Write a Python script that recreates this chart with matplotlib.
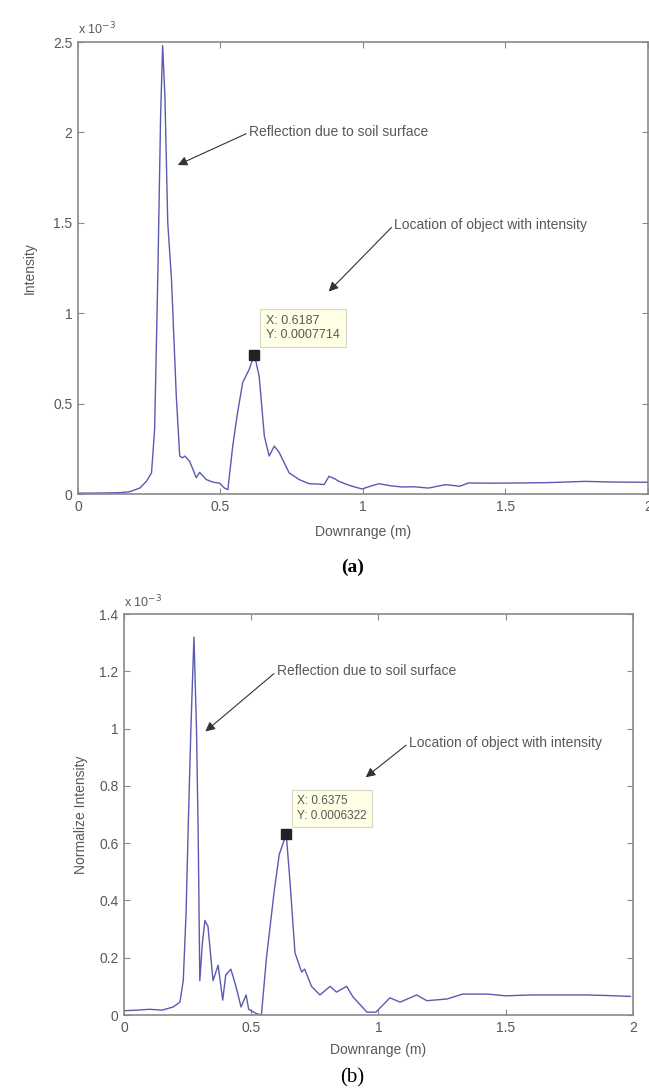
import matplotlib
matplotlib.use("Agg")
import matplotlib.pyplot as plt
from matplotlib.ticker import FixedLocator, FuncFormatter

# (a) intensity vs downrange, values in units of 1e-3
top_x = [0, 0.05, 0.10, 0.15, 0.18, 0.217, 0.24, 0.258, 0.269, 0.28, 0.29, 0.297, 0.305, 0.315, 0.328,
         0.345, 0.357, 0.366, 0.375, 0.392, 0.405, 0.415, 0.427, 0.45, 0.475, 0.497, 0.514, 0.526, 0.543, 0.56,
         0.578, 0.601, 0.619, 0.636, 0.654, 0.671, 0.689, 0.706, 0.741, 0.776, 0.811, 0.846, 0.864, 0.881, 0.90,
         0.916, 0.94, 0.962, 0.997, 1.03, 1.056, 1.10, 1.137, 1.18, 1.23, 1.29, 1.34, 1.37, 1.45, 1.545,
         1.65, 1.78, 1.88, 2.0]
top_y = [0.005, 0.005, 0.006, 0.008, 0.012, 0.033, 0.07, 0.117, 0.36, 1.2, 2.1, 2.48, 2.2, 1.5, 1.19,
         0.54, 0.21, 0.2, 0.21, 0.18, 0.13, 0.09, 0.12, 0.08, 0.065, 0.06, 0.033, 0.024, 0.265, 0.45,
         0.617, 0.69, 0.772, 0.65, 0.32, 0.21, 0.265, 0.23, 0.117, 0.08, 0.057, 0.055, 0.052, 0.098, 0.085,
         0.07, 0.055, 0.043, 0.028, 0.045, 0.057, 0.045, 0.039, 0.04, 0.033, 0.052, 0.043, 0.061, 0.06, 0.061,
         0.063, 0.07, 0.066, 0.065]
top_tip = (0.6187, 0.7714)
top_yticks = [0, 0.5, 1, 1.5, 2, 2.5]

# (b) normalized intensity, units of 1e-3
bot_x = [0, 0.05, 0.10, 0.15, 0.193, 0.22, 0.233, 0.244, 0.252, 0.263, 0.275, 0.285, 0.292, 0.298, 0.308,
         0.318, 0.33, 0.35, 0.37, 0.388, 0.40, 0.42, 0.44, 0.46, 0.48, 0.49, 0.52, 0.54, 0.56, 0.59,
         0.61, 0.6375, 0.652, 0.672, 0.698, 0.71, 0.737, 0.77, 0.81, 0.835, 0.875, 0.90, 0.955, 0.99, 1.045,
         1.085, 1.15, 1.19, 1.27, 1.33, 1.43, 1.50, 1.60, 1.69, 1.82, 1.90, 1.99]
bot_y = [0.015, 0.017, 0.02, 0.017, 0.028, 0.045, 0.12, 0.355, 0.64, 1.0, 1.32, 1.0, 0.61, 0.12, 0.25,
         0.33, 0.31, 0.12, 0.174, 0.052, 0.14, 0.16, 0.10, 0.028, 0.07, 0.02, 0.005, 0.0, 0.2, 0.43,
         0.56, 0.632, 0.47, 0.217, 0.15, 0.16, 0.10, 0.07, 0.1, 0.08, 0.1, 0.063, 0.01, 0.01, 0.06,
         0.045, 0.07, 0.05, 0.056, 0.073, 0.073, 0.067, 0.07, 0.07, 0.07, 0.068, 0.065]
bot_tip = (0.6375, 0.6322)
bot_yticks = [0, 0.2, 0.4, 0.6, 0.8, 1.0, 1.2, 1.4]

xticks = [0, 0.5, 1, 1.5, 2]

LINE = "#5a5ab0"
SPINE = "#8a8a8a"
TXT = "#585858"

plt.rcParams["font.family"] = ["Liberation Sans", "DejaVu Sans"]

fig = plt.figure(figsize=(6.49, 10.92), dpi=100)
ax1 = fig.add_axes([0.1202, 0.5476, 0.878, 0.4139])
ax2 = fig.add_axes([0.191, 0.0705, 0.7843, 0.3672])


def style(ax, yticks, ymax):
    ax.set_xlim(0, 2)
    ax.set_ylim(0, ymax)
    ax.xaxis.set_major_locator(FixedLocator(xticks))
    ax.yaxis.set_major_locator(FixedLocator(yticks))
    fmt = FuncFormatter(lambda v, p: f"{v:g}")
    ax.xaxis.set_major_formatter(fmt)
    ax.yaxis.set_major_formatter(fmt)
    ax.tick_params(direction="in", length=4, width=0.8, colors=SPINE, labelcolor=TXT,
                   labelsize=10, top=True, right=True, pad=4)
    for s in ax.spines.values():
        s.set_color(SPINE)
        s.set_linewidth(1.2)
    ax.text(0.0, 1.01, "x 10$^{-3}$", transform=ax.transAxes, ha="left", va="bottom",
            fontsize=9, color=TXT)


def datatip(ax, pt, xy_box, size):
    ax.plot([pt[0]], [pt[1]], "s", ms=7, color="#222222", zorder=5)
    ax.text(xy_box[0], xy_box[1], f"X: {pt[0]:.4f}\nY: {pt[1] * 1e-3:.7f}", fontsize=size, color=TXT,
            ha="left", va="bottom", linespacing=1.25, zorder=6,
            bbox=dict(boxstyle="square,pad=0.45", fc="#ffffe6", ec="#d8d8c8", lw=0.8))


def note(ax, text, tip, txt_xy):
    ax.annotate(text, xy=tip, xytext=txt_xy, fontsize=10, color=TXT, ha="left", va="center",
                arrowprops=dict(arrowstyle="-|>", color="#333333", lw=0.8, mutation_scale=14,
                                shrinkA=0, shrinkB=0, relpos=(0, 0.5)))


# (a)
ax1.plot(top_x, top_y, color=LINE, lw=1.0)
style(ax1, top_yticks, 2.5)
ax1.set_xlabel("Downrange (m)", fontsize=10, color=TXT, labelpad=8)
ax1.set_ylabel("Intensity", fontsize=10, color=TXT, labelpad=12)
datatip(ax1, top_tip, (0.66, 0.845), 9)
note(ax1, "Reflection due to soil surface", (0.35, 1.82), (0.60, 2.0))
note(ax1, "Location of object with intensity", (0.88, 1.12), (1.11, 1.49))
fig.text(0.544, 1 - 567 / 1092, "(a)", fontsize=14, fontweight="bold", family="Liberation Serif",
         ha="center", va="center")

# (b)
ax2.plot(bot_x, bot_y, color=LINE, lw=1.0)
style(ax2, bot_yticks, 1.4)
ax2.set_xlabel("Downrange (m)", fontsize=10, color=TXT, labelpad=6)
ax2.set_ylabel("Normalize Intensity", fontsize=10, color=TXT, labelpad=8)
datatip(ax2, bot_tip, (0.68, 0.675), 8.5)
note(ax2, "Reflection due to soil surface", (0.32, 0.99), (0.60, 1.20))
note(ax2, "Location of object with intensity", (0.95, 0.83), (1.12, 0.95))
fig.text(0.543, 1 - 1078 / 1092, "(b)", fontsize=15, family="Liberation Serif",
         ha="center", va="center")

fig.savefig("out.png", dpi=100, facecolor="white")
